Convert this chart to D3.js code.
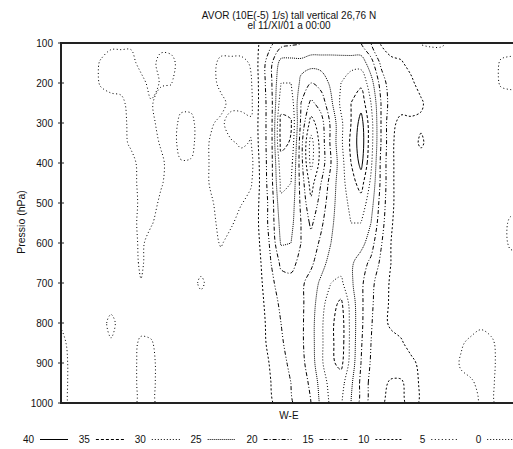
<!DOCTYPE html>
<html><head><meta charset="utf-8">
<script src="https://cdn.jsdelivr.net/npm/d3@7"></script>
<style>
html,body{margin:0;padding:0;background:#fff;}
svg{display:block;font-family:"Liberation Sans",Arial,sans-serif;}
</style></head><body>
<svg id="chart" width="513" height="449"></svg>
<script>
// ---------------- data ----------------
const titleLines = ["AVOR (10E(-5) 1/s) tall vertical 26,76 N", "el 11/XI/01 a 00:00"];
const yLabel = "Pressio (hPa)";
const xLabel = "W-E";
const levels = [40, 35, 30, 25, 20, 15, 10, 5, 0];
const pressureTicks = [100, 200, 300, 400, 500, 600, 700, 800, 900, 1000];
const pressures = [100,150,200,250,300,350,400,450,500,550,600,650,700,750,800,850,900,950,1000];
const gridPoints = d3.range(47); // W-E grid point index

// AVOR (10E-5 1/s) along the W-E section, one array per pressure level
const p100  = [7,7,7,7,7,6,6,6,7,7,7,7,7,7,7,7,8,8,8, 8,10.5,14,18,19,20,22,22,22,21,20,20,15,9.5,8,7.5, 7,4.8,4.5,4.5,5.5,7,7,7,7,7,7,7];
const p150  = [7,7,7,7,4.5,3,3,3,7,7,3,3.5,7,7,7,7,3.5,3.5,3.5, 5.5,12,19,27,27,26.5,27,27,27,27.5,28,28,22,14,11,10.5, 8.5,7.5,7,7,7,7,7,7,7,4.5,4,4];
const p200  = [7,7,7,7,4.5,3,3,3,3,7,4.5,4.8,7,7,7,7,3.5,3.5,3.5, 4.5,12,19,30,30,24,20,22,26,30,33,34,27,18,12,12, 11,8,7,7,7,7,7,7,7,4.5,4,4];
const p250  = [7,7,7,7,7,7,6.3,3,3,4.5,7,7,6,6,7,7,6.5,3.5,3.5, 4,12,18,33,33,20,14,17,24,31,35,38,30,20,12.5,11.5, 11,10.8,7.5,7,7,7,7,7,7,7,7,7];
const p300  = [7,7,7,7,7,7,7,3.5,3,3.5,7,7,4,4,7,5.5,4,7,7, 5.5,12,18,36.5,35.5,19,8,13,21,29,35,42,32,20,11,9, 9.5,9,7,7,7,7,7,7,7,7,7,7];
const p350  = [7,7,7,7,7,7,7,4,3,3,5.5,7,3.5,4,7,4.5,3.5,4.5,5.5, 4.8,12,18,36.5,34.5,17,3,12,21,29,36,43,32,20,11,7.5, 7.5,11,7.5,7,7,7,7,7,7,7,7,7];
const p400  = [7,7,7,7,7,7,7,7,3,3,4,7,5.3,5.3,7,4.5,3.5,3.5,3.5, 3.5,11.5,18,33,32,17,3.5,12,20,28,35,41.5,31,19,11,7.5, 7,7,7,7,7,7,7,7,7,7,7,7];
const p450  = [7,7,7,7,7,7,7,7,3.5,3,4.5,7,7,7,7,4.5,3.5,3.5,4, 4.5,11,18,31,30,18,8,15,22,28,33,37,29,19,11,7.5, 7,7,7,7,7,7,7,7,7,7,7,7];
const p500  = [7,7,7,7,7,7,7,7,4,3,6,7,7,7,7,5.5,3.5,3.5,4.7, 6.5,11,17,29,28,19,11,17,23,28,31,33,27,18,11,7.5, 7,7,7,7,7,7,7,7,7,7,7,7];
const p550  = [7,7,7,7,7,7,7,7,3.5,4.5,7,7,7,7,7,6.5,3.5,4.3,7, 7,11,17,27,26.5,20,14,19,24,28,30,30,25,17,10.5,7.5, 7,7,7,7,7,7,7,7,7,7,4,4];
const p600  = [7,7,7,7,7,7,7,7,4,7,7,7,7,7,7,7,4.5,7,7, 7,10.5,16,25.5,25,20,17,21,25,27,28,27,22,15.5,10,7.5, 7,7,7,7,7,7,7,7,7,7,4,4];
const p650  = [7,7,7,7,7,7,7,7,4.3,7,7,7,7,7,7,7,7,7,7, 7,10,15,21,21,19,19,23,27,28,26,22,19,14,10,7.5, 7,7,7,7,7,7,7,7,7,7,7,7];
const p700  = [7,7,7,7,7,7,7,7,5.2,7,7,7,7,7,4,7,7,7,7, 7,9.5,13.5,18,19,19,22,26,30,31,26,21,16.5,12,9.5,7.5, 7,7,7,7,7,7,7,7,7,7,7,7];
const p750  = [7,7,7,7,7,7,7,7,7,7,7,7,7,7,7,7,7,7,7, 7,9,12.5,16,17.5,19,22.5,28,33,36,28,21,16,11.5,9.5,8, 7,7,7,7,7,7,7,7,7,7,7,7];
const p800  = [5.8,7,7,7,7,3.5,7,7,7,7,7,7,7,7,7,7,7,7,7, 7,8.5,12,15,17,19,23,29,34,37.5,28.5,21,15.5,11,9.5,8.5, 7,7,7,7,7,7,7,5.5,7,7,7,7];
const p850  = [3,7,7,7,7,5.5,7,7,4,4.5,7,7,7,7,7,7,7,7,7, 7,8.5,11.5,14.5,16.5,19,23,29,34,37.5,28.5,20.5,15,11.5,11,10.5, 8.5,7,7,7,7,5.5,4,4,4,7,7,7];
const p900  = [3,6,7,7,7,7,7,7,3.5,3.5,7,7,7,7,7,7,7,7,7, 7,8,10.5,13.5,16,18.5,22.5,29,34,36.5,28,20,14.5,11.5,12,12, 11,9,7,7,7,4.5,3.5,3.5,3.5,7,7,7];
const p950  = [3,6,7,7,7,7,7,7,3.5,3.5,7,7,7,7,7,7,7,7,7, 7,8,10,12.5,15,17.5,21,27,32,32,26,19,13.5,11,9.5,9.5, 11.5,9.5,7,7,7,6,5.5,4,4,7,7,7];
const p1000 = [3,6,7,7,7,7,7,7,3.5,3.5,7,7,7,7,7,7,7,7,7, 7,8,9.5,12,14.5,17,20,26,31,30.5,25,18.5,13,10.5,9,9, 11.5,9.5,7,7,7,7,7,4.2,4,7,7,7];

const field = [p100,p150,p200,p250,p300,p350,p400,p450,p500,p550,p600,p650,p700,p750,p800,p850,p900,p950,p1000];

// ---------------- styles ----------------
const dashes = {40: null, 35: "3,2", 30: "1,2", 25: "1,1", 20: "4,2,1,2", 15: "4,2,1,2,1,2", 10: "2,2", 5: "1,2.5", 0: "1,2"};
const FONT = 10;

// ---------------- drawing ----------------
const svg = d3.select("#chart");
const plot = {left: 61, top: 43, bottom: 403, right: 521};
const nx = gridPoints.length, ny = pressures.length;

const x = d3.scaleLinear().domain([gridPoints[0], gridPoints[nx - 1]]).range([plot.left, plot.right]);
const y = d3.scaleLinear().domain([100, 1000]).range([plot.top, plot.bottom]);
const rowToP = d3.scaleLinear().domain([0, ny - 1]).range([pressures[0], pressures[ny - 1]]);
const colToG = d3.scaleLinear().domain([0, nx - 1]).range([gridPoints[0], gridPoints[nx - 1]]);

svg.append("defs").append("clipPath").attr("id", "clip")
  .append("rect").attr("x", plot.left).attr("y", plot.top)
  .attr("width", plot.right - plot.left).attr("height", plot.bottom - plot.top);

const values = field.flat();
const contourGen = d3.contours().size([nx, ny]).thresholds(levels.slice().sort((a, b) => a - b));
const polys = contourGen(values);

const line = d3.line().curve(d3.curveCatmullRomClosed.alpha(0.5));
const g = svg.append("g").attr("clip-path", "url(#clip)");

polys.forEach(c => {
  const paths = [];
  c.coordinates.forEach(poly => poly.forEach(ring => {
    const pts = ring.slice(0, ring.length - 1).map(p => [x(colToG(p[0] - 0.5)), y(rowToP(p[1] - 0.5))]);
    if (pts.length > 2) paths.push(line(pts));
  }));
  if (!paths.length) return;
  g.append("path")
    .attr("d", paths.join(""))
    .attr("fill", "none")
    .attr("stroke", "#000")
    .attr("stroke-width", 1)
    .attr("stroke-dasharray", dashes[c.value]);
});

// frame
svg.append("path")
  .attr("d", `M${plot.right + 10},${plot.top}H${plot.left}V${plot.bottom}H${plot.right + 10}`)
  .attr("fill", "none").attr("stroke", "#222").attr("stroke-width", 2);

// y axis ticks + labels
const yt = svg.append("g");
pressureTicks.forEach(p => {
  yt.append("line").attr("x1", plot.left - 3).attr("x2", plot.left + 3)
    .attr("y1", y(p)).attr("y2", y(p)).attr("stroke", "#222").attr("stroke-width", 1);
  yt.append("text").attr("x", plot.left - 8).attr("y", y(p)).attr("dy", "0.35em")
    .attr("text-anchor", "end").attr("font-size", FONT).attr("fill", "#111").text(p);
});

// titles
titleLines.forEach((t, i) => {
  svg.append("text").attr("x", 289).attr("y", 19 + i * 10).attr("text-anchor", "middle")
    .attr("font-size", FONT).attr("fill", "#111").text(t);
});
svg.append("text").attr("transform", "translate(25,222) rotate(-90)")
  .attr("text-anchor", "middle").attr("font-size", FONT + 0.5).attr("fill", "#111").text(yLabel);
svg.append("text").attr("x", 289).attr("y", 419).attr("text-anchor", "middle")
  .attr("font-size", FONT).attr("fill", "#111").text(xLabel);

// legend
const leg = svg.append("g");
levels.forEach((lv, k) => {
  const a = 34 + k * 55.9;
  leg.append("text").attr("x", a).attr("y", 443).attr("text-anchor", "end")
    .attr("font-size", FONT).attr("fill", "#111").text(lv);
  leg.append("line").attr("x1", a + 6).attr("x2", a + 34).attr("y1", 439.5).attr("y2", 439.5)
    .attr("stroke", "#000").attr("stroke-width", 1).attr("stroke-dasharray", dashes[lv]);
});
</script>
</body></html>
